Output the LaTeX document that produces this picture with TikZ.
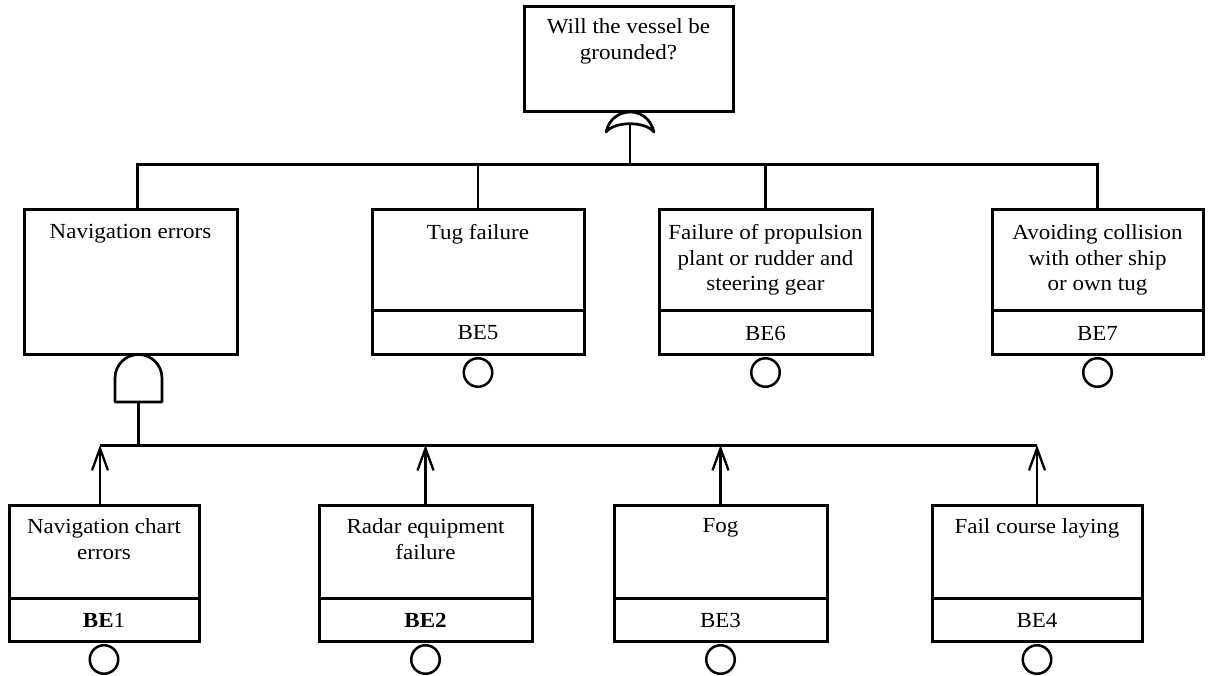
\documentclass[tikz,border=0pt]{standalone}
\usepackage{fontspec}
\setmainfont[FakeStretch=1.07]{Liberation Serif}
\usetikzlibrary{arrows.meta}
\begin{document}
\begin{tikzpicture}[x=1pt,y=1pt,
  evbox/.style={draw, line width=3pt, rectangle, inner sep=0pt},
  lbl/.style={font=\fontsize{21.5}{25.5}\selectfont, align=center, inner sep=0pt, anchor=north},
  belbl/.style={font=\fontsize{21.5}{25.5}\selectfont, inner sep=0pt},
  wire/.style={line width=2.3pt},
  bus/.style={line width=3pt},
  basic/.style={draw, circle, line width=2.5pt, minimum size=28.5pt, inner sep=0pt, anchor=north},
  gate/.style={line width=2.7pt, line join=round},
  arr/.style={line width=2.3pt, -{Straight Barb[length=22pt,width=16pt,line width=2.3pt]}}]

\useasboundingbox (0,0) rectangle (1210,-676);

% top event
\node[evbox, minimum width=209pt, minimum height=105pt] (top) at (628.5,-59.5) {};
\node[lbl] (toptxt) at ([yshift=-13pt]top.north) {Will the vessel be\\grounded?};

% OR gate
\draw[gate] (606,-132) .. controls (609,-119) and (619,-112) .. (630,-112)
  .. controls (641,-112) and (651,-119) .. (654,-132)
  .. controls (645,-121) and (615,-121) .. cycle;
\coordinate (orout) at (630,-124);
\coordinate (tbus) at (630,-165);

% second row
\node[evbox, minimum width=213pt, minimum height=144pt] (ne) at (130.5,-282) {};
\node[lbl] (netxt) at ([yshift=-16pt]ne.north) {Navigation errors};

\node[evbox, minimum width=212pt, minimum height=144pt] (tug) at (478,-282) {};
\node[lbl] (tugtxt) at ([yshift=-16pt]tug.north) {Tug failure};
\draw[evbox] ([yshift=45pt]tug.south west) -- ([yshift=45pt]tug.south east);
\node[belbl] (tugbe) at ([yshift=22.5pt]tug.south) {BE5};
\node[basic] (tugc) at ([yshift=-1.5pt]tug.south) {};

\node[evbox, minimum width=213pt, minimum height=144pt] (prop) at (765.5,-282) {};
\node[lbl] (proptxt) at ([yshift=-16pt]prop.north) {Failure of propulsion\\plant or rudder and\\steering gear};
\draw[evbox] ([yshift=45pt]prop.south west) -- ([yshift=45pt]prop.south east);
\node[belbl] (propbe) at ([yshift=22.5pt]prop.south) {BE6};
\node[basic] (propc) at ([yshift=-1.5pt]prop.south) {};

\node[evbox, minimum width=211pt, minimum height=144pt] (av) at (1097.5,-282) {};
\node[lbl] (avtxt) at ([yshift=-16pt]av.north) {Avoiding collision\\with other ship\\or own tug};
\draw[evbox] ([yshift=45pt]av.south west) -- ([yshift=45pt]av.south east);
\node[belbl] (avbe) at ([yshift=22.5pt]av.south) {BE7};
\node[basic] (avc) at ([yshift=-1.5pt]av.south) {};

% connectors top
\draw[wire] (orout) -- (tbus);
\draw[bus] (137,-210) -- (137,-165) -- (av.north |- tbus) -- (av.north);
\draw[wire] (tug.north) -- (tug.north |- tbus);
\draw[wire] (prop.north) -- (prop.north |- tbus);

% AND gate
\draw[gate] (115,-402) -- (115,-378) arc (180:0:23.5) -- (162,-402) -- cycle;
\coordinate (andout) at (138.5,-402);
\coordinate (bbus) at (138.5,-445);
\draw[wire] (andout) -- (bbus);

% bottom row
\node[evbox, minimum width=190pt, minimum height=136pt] (nc) at (104,-573) {};
\node[lbl] (nctxt) at ([yshift=-15pt]nc.north) {Navigation chart\\errors};
\draw[evbox] ([yshift=44pt]nc.south west) -- ([yshift=44pt]nc.south east);
\node[belbl] (ncbe) at ([yshift=22pt]nc.south) {\textbf{BE}1};
\node[basic] (ncc) at ([yshift=-1.5pt]nc.south) {};

\node[evbox, minimum width=213pt, minimum height=136pt] (rad) at (425.5,-573) {};
\node[lbl] (radtxt) at ([yshift=-15pt]rad.north) {Radar equipment\\failure};
\draw[evbox] ([yshift=44pt]rad.south west) -- ([yshift=44pt]rad.south east);
\node[belbl] (radbe) at ([yshift=22pt]rad.south) {\textbf{BE2}};
\node[basic] (radc) at ([yshift=-1.5pt]rad.south) {};

\node[evbox, minimum width=213pt, minimum height=136pt] (fog) at (720.5,-573) {};
\node[lbl] (fogtxt) at ([yshift=-15pt]fog.north) {Fog};
\draw[evbox] ([yshift=44pt]fog.south west) -- ([yshift=44pt]fog.south east);
\node[belbl] (fogbe) at ([yshift=22pt]fog.south) {BE3};
\node[basic] (fogc) at ([yshift=-1.5pt]fog.south) {};

\node[evbox, minimum width=210pt, minimum height=136pt] (fcl) at (1037,-573) {};
\node[lbl] (fcltxt) at ([yshift=-15pt]fcl.north) {Fail course laying};
\draw[evbox] ([yshift=44pt]fcl.south west) -- ([yshift=44pt]fcl.south east);
\node[belbl] (fclbe) at ([yshift=22pt]fcl.south) {BE4};
\node[basic] (fclc) at ([yshift=-1.5pt]fcl.south) {};

% bottom bus and arrows
\draw[bus] (100,-445) -- (fcl.north |- bbus);
\draw[arr, line width=2.9pt] (100,-505) -- (100,-445);
\draw[arr] (rad.north) -- (rad.north |- bbus);
\draw[arr] (fog.north) -- (fog.north |- bbus);
\draw[arr] (fcl.north) -- (fcl.north |- bbus);
\end{tikzpicture}
\end{document}
